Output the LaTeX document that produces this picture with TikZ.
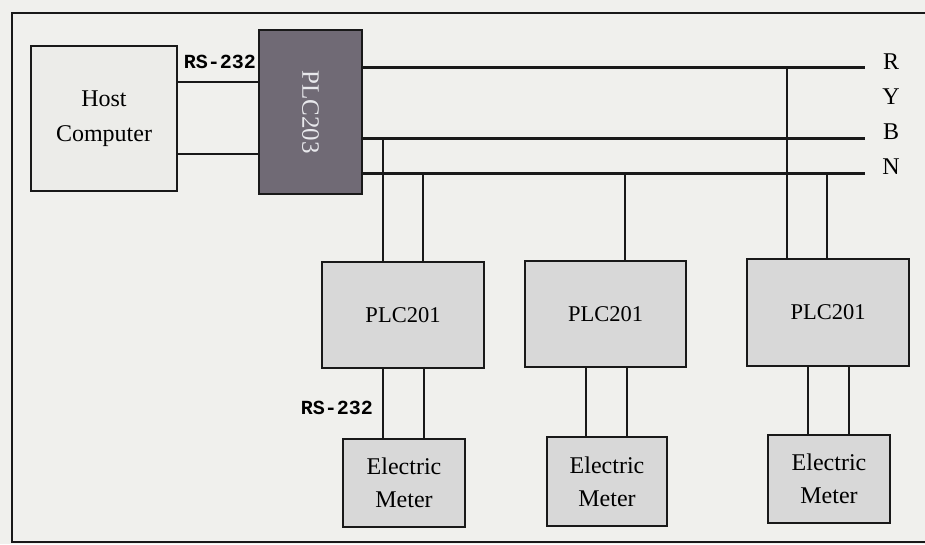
\documentclass[tikz,border=0pt]{standalone}
\usepackage{fontspec}
\setmainfont{Liberation Serif}
\newfontfamily\rsfont{Liberation Mono}
\definecolor{bgc}{RGB}{240,240,237}
\definecolor{hostc}{RGB}{236,236,233}
\definecolor{plcc}{RGB}{216,216,216}
\definecolor{darkc}{RGB}{112,106,117}
\definecolor{darktxt}{RGB}{232,232,236}
\definecolor{linec}{RGB}{25,25,25}
\begin{document}
\begin{tikzpicture}[x=1pt,y=-1pt,
  box/.style={draw=linec,line width=1.4pt,inner sep=0pt,align=center},
  hostbox/.style={box,fill=hostc,font=\fontsize{24}{35}\selectfont},
  mainplc/.style={box,fill=darkc,text=darktxt},
  subplc/.style={box,fill=plcc,font=\fontsize{22.5}{24}\selectfont},
  meterbox/.style={box,fill=plcc,font=\fontsize{24}{33}\selectfont},
  wire/.style={draw=linec,line width=1.5pt},
  bus/.style={draw=linec,line width=3pt},
  phase/.style={font=\fontsize{24}{26}\selectfont,inner sep=0pt},
  rslabel/.style={font=\rsfont\bfseries\fontsize{20}{22}\selectfont,inner sep=0pt}]
\useasboundingbox[fill=bgc] (0,0) rectangle (925,544);
% outer frame (right side lies outside the picture)
\draw[draw=linec,line width=1.6pt] (925,13) -- (12,13) -- (12,542) -- (925,542);

% boxes
\node[hostbox,minimum width=146pt,minimum height=145pt] (host) at (104,118.5) {Host\\Computer};
\node[mainplc,minimum width=103pt,minimum height=164pt] (plc203) at (310.5,112) {};
\node[text=darktxt,rotate=-90,inner sep=0pt,font=\fontsize{25}{26}\selectfont] (plc203t) at (plc203.center) {PLC203};
\node[subplc,minimum width=162pt,minimum height=106pt] (plca) at (403,315) {PLC201};
\node[subplc,minimum width=161pt,minimum height=106pt] (plcb) at (605.5,314) {PLC201};
\node[subplc,minimum width=162pt,minimum height=107pt] (plcc) at (828,312.5) {PLC201};
\node[meterbox,minimum width=122pt,minimum height=88pt] (metera) at (404,483) {Electric\\Meter};
\node[meterbox,minimum width=120pt,minimum height=89pt] (meterb) at (607,481.5) {Electric\\Meter};
\node[meterbox,minimum width=122pt,minimum height=88pt] (meterc) at (829,479) {Electric\\Meter};

% host to PLC203 (RS-232)
\draw[wire] (host.east |- 0,82) -- (plc203.west |- 0,82);
\draw[wire] (host.east |- 0,154) -- (plc203.west |- 0,154);
\node[rslabel] (rs1) at (220,62) {RS-232};

% bus ends
\coordinate (rend) at (865,67);
\coordinate (bend) at (865,138);
\coordinate (nend) at (865,173);
\draw[bus] (plc203.east |- rend) -- (rend);
\draw[bus] (plc203.east |- bend) -- (bend);
\draw[bus] (plc203.east |- nend) -- (nend);
\node[phase] (lr) at (891,62) {R};
\node[phase] (ly) at (891,97) {Y};
\node[phase] (lb) at (891,132) {B};
\node[phase] (ln) at (891,167) {N};

% drops to PLC201 units
\draw[wire] (383,138) -- (plca.north -| 383,0);
\draw[wire] (423,173) -- (plca.north -| 423,0);
\draw[wire] (625,173) -- (plcb.north -| 625,0);
\draw[wire] (787,67) -- (plcc.north -| 787,0);
\draw[wire] (827,173) -- (plcc.north -| 827,0);

% PLC201 to meters
\draw[wire] (plca.south -| 383,0) -- (metera.north -| 383,0);
\draw[wire] (plca.south -| 424,0) -- (metera.north -| 424,0);
\draw[wire] (plcb.south -| 586,0) -- (meterb.north -| 586,0);
\draw[wire] (plcb.south -| 627,0) -- (meterb.north -| 627,0);
\draw[wire] (plcc.south -| 808,0) -- (meterc.north -| 808,0);
\draw[wire] (plcc.south -| 849,0) -- (meterc.north -| 849,0);
\node[rslabel] (rs2) at (337,408) {RS-232};
\end{tikzpicture}
\end{document}
